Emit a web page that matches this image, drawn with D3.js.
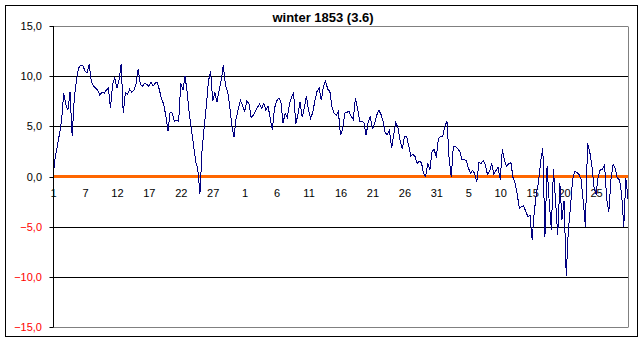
<!DOCTYPE html>
<html>
<head>
<meta charset="utf-8">
<script src="https://cdn.jsdelivr.net/npm/d3@7/dist/d3.min.js"></script>
<style>
  html, body { margin: 0; padding: 0; background: #fff; }
  svg { display: block; }
  text { font-family: "Liberation Sans", Arial, sans-serif; }
</style>
</head>
<body>
<svg id="chart" width="644" height="343"></svg>
<script>
// Temperature readings, three per day, winter 1853 (Dec – Feb)
const temps = [
  0.0, 1.8, 3.0, 4.2, 5.5, 8.3, 7.2, 6.6, 8.4, 4.0,
  7.8, 9.6, 10.8, 11.1, 11.1, 10.5, 10.3, 11.2, 9.5, 9.0,
  8.8, 8.6, 8.1, 8.4, 8.3, 8.6, 8.8, 6.8, 9.2, 9.8,
  8.8, 9.6, 11.2, 6.3, 8.4, 8.2, 8.7, 8.4, 8.6, 9.2,
  10.7, 9.2, 9.0, 9.3, 9.2, 9.0, 9.4, 9.0, 9.3, 9.4,
  8.6, 7.7, 7.2, 6.0, 4.5, 6.4, 6.3, 5.5, 5.6, 5.5,
  9.3, 8.6, 10.0, 8.4, 6.2, 4.7, 3.1, 1.5, 0.7, -1.7,
  2.6, 4.9, 7.0, 9.5, 10.5, 7.5, 8.4, 7.4, 8.6, 9.6,
  11.1, 9.0, 8.5, 7.0, 5.0, 3.9, 5.8, 6.7, 7.6, 7.1,
  6.5, 7.5, 7.3, 5.9, 6.1, 6.5, 6.9, 7.2, 6.8, 7.3,
  6.6, 7.0, 5.8, 4.6, 6.8, 7.5, 7.8, 7.5, 5.3, 6.3,
  5.9, 7.2, 7.9, 8.3, 5.2, 6.2, 7.4, 5.9, 6.8, 8.0,
  6.6, 5.8, 6.4, 7.6, 8.5, 8.8, 7.6, 9.0, 9.5, 8.7,
  8.5, 6.9, 6.3, 6.1, 6.5, 4.1, 4.7, 6.3, 6.4, 6.5,
  6.0, 5.7, 7.8, 6.8, 5.5, 5.5, 5.4, 4.1, 5.4, 6.0,
  4.7, 5.3, 6.1, 6.6, 6.2, 5.5, 4.3, 4.2, 4.6, 2.8,
  4.2, 5.4, 4.8, 3.6, 2.7, 4.0, 4.0, 3.1, 2.0, 2.2,
  2.0, 1.3, 1.5, 1.4, 0.3, 0.0, 1.3, 0.7, 2.5, 2.7,
  1.9, 3.8, 4.0, 4.0, 5.0, 5.5, 1.8, 0.0, 3.0, 3.0,
  2.8, 2.5, 1.7, 1.7, 1.6, 0.9, 0.3, 0.6, 0.3, -0.5,
  1.4, 1.3, 1.6, 1.2, 0.2, 0.5, 1.3, 0.2, 0.6, 0.9,
  -0.3, 2.7, 1.6, 1.0, 1.3, 1.4, -0.1, -0.7, -1.8, -3.2,
  -3.0, -2.9, -3.5, -4.0, -3.9, -6.3, -3.5, -1.7, -0.5, 1.5,
  2.8, -6.0, 1.0, -2.5, -5.3, 0.7, -2.5, -5.8, -0.7, -4.3,
  -2.4, -9.9, -5.3, -3.0, -0.3, 0.5, 0.4, 0.2, -0.3, -2.5,
  -5.0, 3.3, 2.5, 1.2, -1.0, -1.8, 0.0, 0.7, 0.7, 1.2,
  -2.3, -3.5, -0.3, 1.2, 0.8, -0.2, -0.3, -1.7, -5.0, -0.2,
  -2.2
];

// Day-of-month labels shown along the category axis, one every 15 readings
const dayLabels = ["1", "7", "12", "17", "22", "27", "1", "6", "11", "16",
                   "21", "26", "31", "5", "10", "15", "20", "25"];
const labelStep = 15;

// Value axis ticks
const yTicks = [-15, -10, -5, 0, 5, 10, 15];

const chartTitle = "winter 1853 (3.6)";

const svg = d3.select("#chart");

// Plot area
const plot = { left: 53, right: 628, top: 26, bottom: 327 };

const x = d3.scaleLinear().domain([0, temps.length - 1]).range([plot.left, plot.right]);
const y = d3.scaleLinear().domain([-15, 15]).range([plot.bottom, plot.top]);

// Outer chart frame
svg.append("rect")
  .attr("x", 5.5).attr("y", 5.5)
  .attr("width", 632).attr("height", 331)
  .attr("fill", "#fff")
  .attr("stroke", "#000").attr("stroke-width", 1);

// Title
svg.append("text")
  .attr("x", 323).attr("y", 22)
  .attr("text-anchor", "middle")
  .attr("font-size", 13).attr("font-weight", "bold")
  .text(chartTitle);

const crisp = v => Math.round(v) + 0.5;

// Horizontal gridlines (inner values black, outer edges grey)
svg.append("g").selectAll("line")
  .data(yTicks.filter(v => v !== 0))
  .join("line")
  .attr("x1", plot.left).attr("x2", plot.right)
  .attr("y1", d => crisp(y(d))).attr("y2", d => crisp(y(d)))
  .attr("stroke", d => Math.abs(d) === 15 ? "#808080" : "#000")
  .attr("stroke-width", 1);

// Right edge of plot area
svg.append("line")
  .attr("x1", crisp(plot.right)).attr("x2", crisp(plot.right))
  .attr("y1", crisp(y(15))).attr("y2", crisp(y(-15)))
  .attr("stroke", "#808080");

// Category labels (axis crosses at zero)
const xAxis = d3.axisBottom(x)
  .tickValues(dayLabels.map((_, i) => i * labelStep))
  .tickFormat((d, i) => dayLabels[i])
  .tickSize(0)
  .tickPadding(0);

const gx = svg.append("g")
  .attr("transform", `translate(0,${y(0)})`)
  .call(xAxis);
gx.select(".domain").remove();
gx.selectAll("text")
  .attr("font-size", 11)
  .attr("font-family", "Liberation Sans, Arial, sans-serif")
  .attr("fill", "#000")
  .attr("dy", null)
  .attr("y", 20);

// Zero line
svg.append("line")
  .attr("x1", plot.left).attr("x2", plot.right)
  .attr("y1", y(0)).attr("y2", y(0))
  .attr("stroke", "#FF6600").attr("stroke-width", 3);

// Temperature series
const line = d3.line()
  .x((d, i) => x(i))
  .y(d => y(d));

svg.append("path")
  .datum(temps)
  .attr("fill", "none")
  .attr("stroke", "#000080")
  .attr("stroke-width", 1)
  .attr("shape-rendering", "crispEdges")
  .attr("d", line);

// Value axis
const yAxis = d3.axisLeft(y)
  .tickValues(yTicks)
  .tickSize(4)
  .tickPadding(7)
  .tickFormat(d => d3.format(".1f")(d).replace(".", ","));

const gy = svg.append("g")
  .attr("transform", `translate(${crisp(plot.left) - 0.5},0)`)
  .call(yAxis);
gy.select(".domain")
  .attr("d", `M0.5,${y(15)}V${y(-15)}`)
  .attr("stroke", "#000");
gy.selectAll(".tick line")
  .attr("stroke", "#000")
  .attr("transform", "translate(0.5,0)");
gy.selectAll(".tick").attr("transform", d => `translate(0,${crisp(y(d))})`);
gy.selectAll("text")
  .attr("font-size", 11)
  .attr("font-family", "Liberation Sans, Arial, sans-serif")
  .attr("fill", d => d < 0 ? "#FF0000" : "#000");
</script>
</body>
</html>
